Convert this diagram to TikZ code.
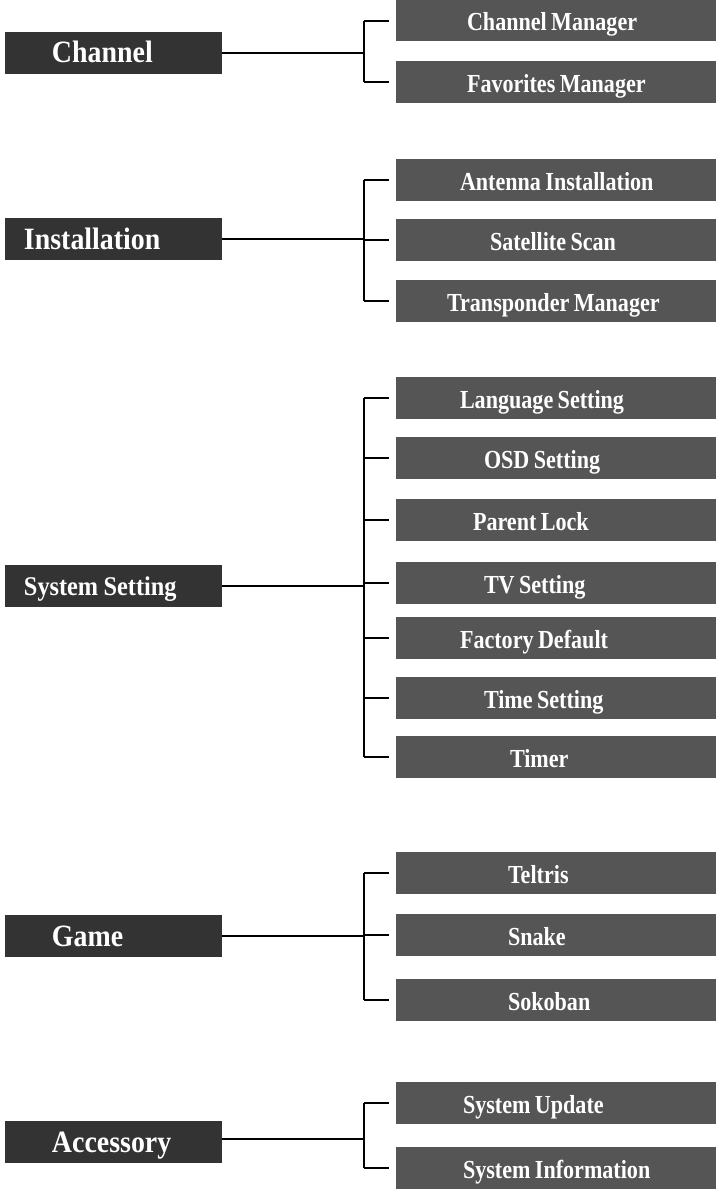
\documentclass[tikz,border=0pt]{standalone}
\usepackage{fontspec}
\newfontfamily\pfont[FakeStretch=0.9]{Liberation Serif}
\newfontfamily\cfont[FakeStretch=0.85]{Liberation Serif}
\definecolor{pdark}{HTML}{333333}
\definecolor{cdark}{HTML}{555555}
\newcommand\plab[2]{\makebox[217pt][l]{\spaceskip=0.2em\relax\hspace*{#1pt}#2}}
\newcommand\clab[2]{\makebox[320pt][l]{\spaceskip=0.17em\relax\hspace*{#1pt}#2}}
\begin{document}
\begin{tikzpicture}[x=1pt,y=-1pt,
  pbox/.style={fill=pdark, text=white, inner sep=0pt, minimum height=42pt,
    text height=31pt, text depth=11pt,
    font=\pfont\bfseries\fontsize{31}{31}\selectfont},
  cbox/.style={fill=cdark, text=white, inner sep=0pt, minimum height=42pt,
    text height=31pt, text depth=11pt,
    font=\cfont\bfseries\fontsize{26}{26}\selectfont},
  conn/.style={draw=black, line width=2pt},
  stub/.style={conn, shorten >=7pt}]
\useasboundingbox (0,0) rectangle (716,1191);

% ---------- Channel
\node[pbox] (ch) at (113.5,52.5) {\plab{47}{Channel}};
\node[cbox, minimum height=41pt, text height=30pt] (ch1) at (556,20.5) {\clab{71}{Channel Manager}};
\node[cbox] (ch2) at (556,82) {\clab{71}{Favorites Manager}};
\coordinate (chb) at (364,52.5);
\draw[conn] (ch.east) -- (chb);
\draw[conn] (ch1.west -| chb) -- (ch2.west -| chb);
\foreach \c in {ch1,ch2} \draw[stub] (\c.west -| chb) -- (\c.west);

% ---------- Installation
\node[pbox] (in) at (113.5,239) {\plab{19}{Installation}};
\node[cbox] (in1) at (556,180) {\clab{64}{Antenna Installation}};
\node[cbox] (in2) at (556,240) {\clab{94}{Satellite Scan}};
\node[cbox] (in3) at (556,301) {\clab{51}{Transponder Manager}};
\coordinate (inb) at (364,239);
\draw[conn] (in.east) -- (inb);
\draw[conn] (in1.west -| inb) -- (in3.west -| inb);
\foreach \c in {in1,in2,in3} \draw[stub] (\c.west -| inb) -- (\c.west);

% ---------- System Setting
\node[pbox, font=\pfont\bfseries\fontsize{27}{27}\selectfont, text height=30pt, text depth=12pt] (ss) at (113.5,586) {\plab{19}{System Setting}};
\node[cbox] (ss1) at (556,398) {\clab{64}{Language Setting}};
\node[cbox] (ss2) at (556,458) {\clab{88}{OSD Setting}};
\node[cbox] (ss3) at (556,520) {\clab{77}{Parent Lock}};
\node[cbox] (ss4) at (556,583) {\clab{88}{TV Setting}};
\node[cbox] (ss5) at (556,638) {\clab{64}{Factory Default}};
\node[cbox] (ss6) at (556,698) {\clab{88}{Time Setting}};
\node[cbox] (ss7) at (556,757) {\clab{114}{Timer}};
\coordinate (ssb) at (364,586);
\draw[conn] (ss.east) -- (ssb);
\draw[conn] (ss1.west -| ssb) -- (ss7.west -| ssb);
\foreach \c in {ss1,ss2,ss3,ss4,ss5,ss6,ss7} \draw[stub] (\c.west -| ssb) -- (\c.west);

% ---------- Game
\node[pbox] (ga) at (113.5,936) {\plab{47}{Game}};
\node[cbox] (ga1) at (556,873) {\clab{112}{Teltris}};
\node[cbox] (ga2) at (556,935) {\clab{112}{Snake}};
\node[cbox] (ga3) at (556,1000) {\clab{112}{Sokoban}};
\coordinate (gab) at (364,936);
\draw[conn] (ga.east) -- (gab);
\draw[conn] (ga1.west -| gab) -- (ga3.west -| gab);
\foreach \c in {ga1,ga2,ga3} \draw[stub] (\c.west -| gab) -- (\c.west);

% ---------- Accessory
\node[pbox] (ac) at (113.5,1142) {\plab{47}{Accessory}};
\node[cbox] (ac1) at (556,1103) {\clab{67}{System Update}};
\node[cbox] (ac2) at (556,1168) {\clab{67}{System Information}};
\coordinate (acb) at (364,1139);
\draw[conn] (ac.east |- acb) -- (acb);
\draw[conn] (ac1.west -| acb) -- (ac2.west -| acb);
\foreach \c in {ac1,ac2} \draw[stub] (\c.west -| acb) -- (\c.west);
\end{tikzpicture}
\end{document}
